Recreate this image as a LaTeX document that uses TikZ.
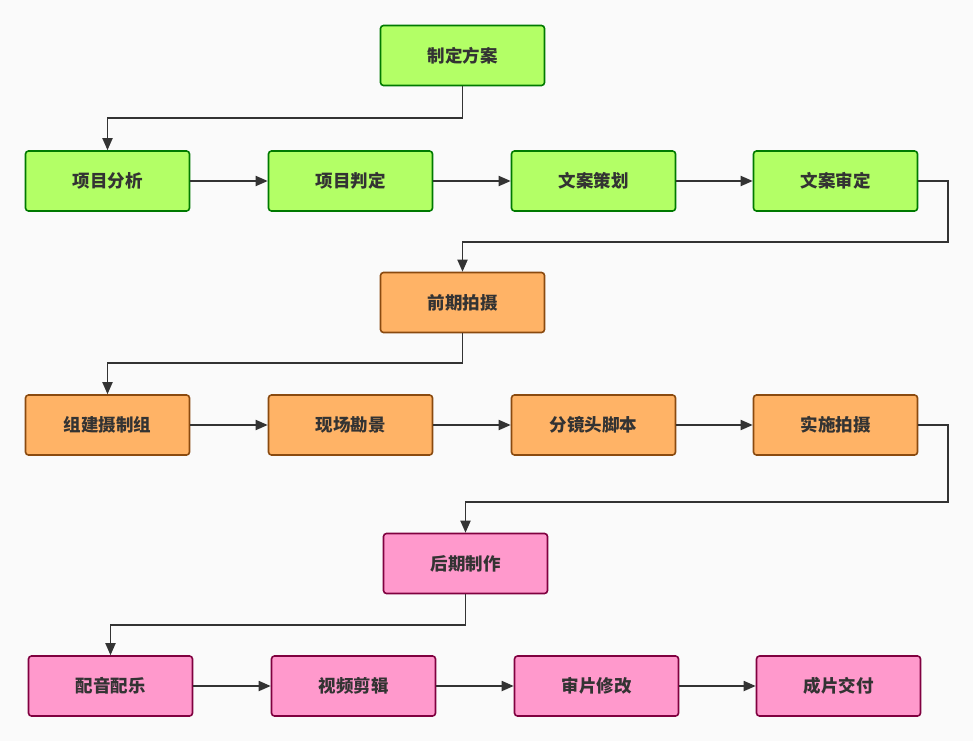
\documentclass[tikz,border=0pt]{standalone}
\usepackage{fontspec}
\setmainfont{Noto Sans CJK SC}
\usetikzlibrary{arrows.meta}

\definecolor{bgc}{HTML}{FAFAFA}
\definecolor{linec}{HTML}{333333}
\definecolor{greenf}{HTML}{B3FF66}
\definecolor{greend}{HTML}{007A00}
\definecolor{orangef}{HTML}{FFB366}
\definecolor{oranged}{HTML}{8A4A0F}
\definecolor{pinkf}{HTML}{FF99CC}
\definecolor{pinkd}{HTML}{80003F}

\begin{document}
\begin{tikzpicture}[
    x=1pt, y=-1pt,
    box/.style={draw, rounded corners=3pt, line width=1.6pt, minimum width=164pt,
        minimum height=60pt, text=linec, font=\fontsize{17.5}{20}\selectfont\bfseries},
    gbox/.style={box, fill=greenf, draw=greend},
    obox/.style={box, fill=orangef, draw=oranged},
    pbox/.style={box, fill=pinkf, draw=pinkd},
    >={Triangle[length=12pt, width=10pt]},
    flow/.style={->, draw=linec, line width=1.8pt}
]
    % 背景
    \fill[bgc] (0,0) rectangle (973,741);

    % 第一阶段
    \node[gbox] (plan) at (462.5, 55.5) {制定方案};
    \node[gbox] (g1) at (107.5, 181) {项目分析};
    \node[gbox] (g2) at (350.5, 181) {项目判定};
    \node[gbox] (g3) at (593.5, 181) {文案策划};
    \node[gbox] (g4) at (835.5, 181) {文案审定};

    % 第二阶段
    \node[obox] (shoot) at (462.5, 302.5) {前期拍摄};
    \node[obox] (o1) at (107.5, 425) {组建摄制组};
    \node[obox] (o2) at (350.5, 425) {现场勘景};
    \node[obox] (o3) at (593.5, 425) {分镜头脚本};
    \node[obox] (o4) at (835.5, 425) {实施拍摄};

    % 第三阶段
    \node[pbox] (post) at (465.5, 563.5) {后期制作};
    \node[pbox] (p1) at (110.5, 686) {配音配乐};
    \node[pbox] (p2) at (353.5, 686) {视频剪辑};
    \node[pbox] (p3) at (596.5, 686) {审片修改};
    \node[pbox] (p4) at (838.5, 686) {成片交付};

    % 连线
    \draw[flow] (plan.south) -- ++(0,32) -| (g1.north);
    \draw[flow] (g1) -- (g2);
    \draw[flow] (g2) -- (g3);
    \draw[flow] (g3) -- (g4);
    \draw[flow] (g4.east) -| ++(30,61) -| (shoot.north);

    \draw[flow] (shoot.south) -- ++(0,30) -| (o1.north);
    \draw[flow] (o1) -- (o2);
    \draw[flow] (o2) -- (o3);
    \draw[flow] (o3) -- (o4);
    \draw[flow] (o4.east) -| ++(30,77) -| (post.north);

    \draw[flow] (post.south) -- ++(0,31) -| (p1.north);
    \draw[flow] (p1) -- (p2);
    \draw[flow] (p2) -- (p3);
    \draw[flow] (p3) -- (p4);
\end{tikzpicture}
\end{document}
